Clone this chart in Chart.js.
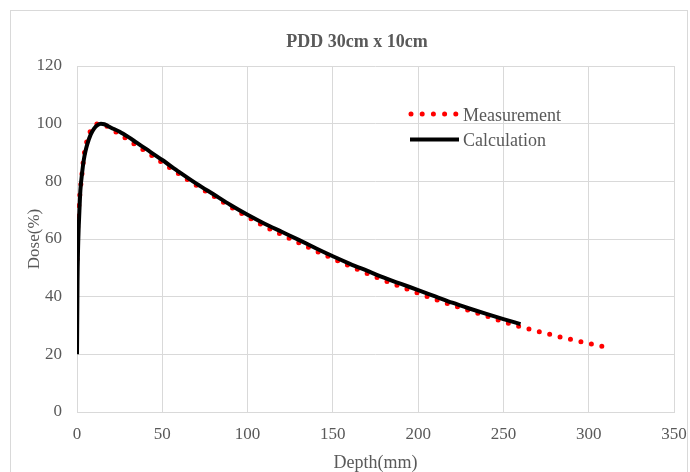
<!DOCTYPE html>
<html>
<head>
<meta charset="utf-8">
<script src="https://cdn.jsdelivr.net/npm/chart.js@4"></script>
<style>
    html, body { margin: 0; padding: 0; background: #fff; overflow: hidden; }
    #wrap { width: 690px; height: 500px; }
</style>
</head>
<body>
<div id="wrap"><canvas id="pddChart" width="690" height="500"></canvas></div>
<script>
// Chart data
const calcDepth = [0, 0.3, 0.6, 1, 1.5, 2, 3, 4, 5, 6, 8, 10, 12, 14, 16, 18, 20, 25, 30, 35, 40,
    50, 60, 70, 80, 90, 100, 110, 120, 130, 140, 150, 160, 170, 180, 190, 200,
    210, 220, 230, 240, 250, 260];
const calcDose = [20, 45, 56, 64, 71, 77, 83, 87.5, 90.5, 92.8, 96.2, 98.3, 99.5, 100, 99.8, 99.2, 98.6, 97.2, 95.4, 93.4, 91.4,
    87.4, 83.2, 79.2, 75.5, 71.8, 68.4, 65.3, 62.5, 59.7, 56.8, 54.0, 51.4, 49.0, 46.6, 44.4, 42.3,
    40.1, 37.9, 35.9, 34.0, 32.2, 30.5];

const measDepth = [0, 0.3, 0.6, 1, 1.5, 2, 3, 4, 5, 6, 8, 10, 12, 14, 16, 18, 20, 25, 30, 35, 40,
    50, 60, 70, 80, 90, 100, 110, 120, 130, 140, 150, 160, 170, 180, 190, 200,
    210, 220, 230, 240, 250, 260, 270, 280, 290, 300, 310];
const measDose = [53, 62, 67, 71, 74.5, 77.5, 83, 88.5, 92, 94.3, 97.6, 99.3, 99.9, 100, 99.6, 99.0, 98.2, 96.3, 94.4, 92.4, 90.5,
    86.5, 82.5, 78.6, 74.9, 71.2, 67.7, 64.4, 61.5, 58.7, 55.9, 53.2, 50.6, 48.1, 45.7, 43.4, 41.2,
    39.1, 37.1, 35.2, 33.3, 31.3, 29.6, 28.0, 26.5, 25.1, 23.8, 22.5];

const seriesNames = ['Measurement', 'Calculation'];
const chartTitle = 'PDD 30cm x 10cm';
const xTitle = 'Depth(mm)';
const yTitle = 'Dose(%)';

const textColor = '#595959';
const gridColor = '#d9d9d9';
const serif = "'Liberation Serif', 'Times New Roman', serif";

function toPoints(xs, ys) {
    return xs.map((x, i) => ({ x: x, y: ys[i] }));
}

// Outer frame + inline legend
const decorPlugin = {
    id: 'decor',
    beforeDraw(chart) {
        const ctx = chart.ctx;
        ctx.save();
        ctx.fillStyle = '#fff';
        ctx.fillRect(0, 0, chart.width, chart.height);
        ctx.strokeStyle = gridColor;
        ctx.lineWidth = 1;
        ctx.strokeRect(10.5, 10.5, 677, 520);
        ctx.restore();
    },
    afterDatasetsDraw(chart) {
        const ctx = chart.ctx;
        const ds = chart.data.datasets;
        ctx.save();
        // Measurement sample
        ctx.strokeStyle = ds[0].borderColor;
        ctx.lineWidth = ds[0].borderWidth;
        ctx.lineCap = 'round';
        ctx.setLineDash([0, 11.2]);
        ctx.beginPath();
        ctx.moveTo(411, 114);
        ctx.lineTo(458, 114);
        ctx.stroke();
        // Calculation sample
        ctx.setLineDash([]);
        ctx.lineCap = 'butt';
        ctx.strokeStyle = ds[1].borderColor;
        ctx.lineWidth = ds[1].borderWidth;
        ctx.beginPath();
        ctx.moveTo(410, 139.5);
        ctx.lineTo(459, 139.5);
        ctx.stroke();
        ctx.fillStyle = textColor;
        ctx.font = '18px ' + serif;
        ctx.textBaseline = 'alphabetic';
        ctx.fillText(ds[0].label, 463, 121);
        ctx.fillText(ds[1].label, 463, 146);
        ctx.restore();
    }
};

const ctx = document.getElementById('pddChart').getContext('2d');
const pddChart = new Chart(ctx, {
    type: 'line',
    data: {
        datasets: [{
            label: seriesNames[0],
            data: toPoints(measDepth, measDose),
            borderColor: '#ff0000',
            borderWidth: 5,
            borderDash: [0, 10.7],
            borderCapStyle: 'round',
            pointRadius: 0,
            cubicInterpolationMode: 'monotone',
            order: 1
        }, {
            label: seriesNames[1],
            data: toPoints(calcDepth, calcDose),
            borderColor: '#000000',
            borderWidth: 4,
            pointRadius: 0,
            cubicInterpolationMode: 'monotone',
            order: 0
        }]
    },
    options: {
        responsive: false,
        animation: false,
        devicePixelRatio: 1,
        layout: {
            padding: { left: 24, right: 0, top: 20, bottom: 23 }
        },
        plugins: {
            legend: { display: false },
            tooltip: { enabled: false },
            title: {
                display: true,
                text: chartTitle,
                color: textColor,
                font: { family: serif, size: 18, weight: 'bold' },
                padding: { top: 12, bottom: 12.4 }
            }
        },
        scales: {
            x: {
                type: 'linear',
                min: 0,
                max: 350,
                grid: { color: gridColor, drawTicks: false },
                border: { color: gridColor },
                ticks: {
                    stepSize: 50,
                    padding: 12,
                    color: textColor,
                    font: { family: serif, size: 17 }
                },
                title: {
                    display: true,
                    text: xTitle,
                    color: textColor,
                    font: { family: serif, size: 18 },
                    padding: { top: 4, bottom: 3 }
                },
                afterFit(scale) {
                    scale.height = 65;
                    scale.paddingRight = 16;
                }
            },
            y: {
                min: 0,
                max: 120,
                grid: { color: gridColor, drawTicks: false },
                border: { display: false },
                ticks: {
                    stepSize: 20,
                    padding: 15,
                    color: textColor,
                    font: { family: serif, size: 17 }
                },
                title: {
                    display: true,
                    text: yTitle,
                    color: textColor,
                    font: { family: serif, size: 17 },
                    padding: { top: 0, bottom: 0 }
                },
                afterFit(scale) {
                    scale.width = 53;
                    scale.paddingTop = 0;
                    scale.paddingBottom = 0;
                }
            }
        }
    },
    plugins: [decorPlugin]
});
</script>
</body>
</html>
